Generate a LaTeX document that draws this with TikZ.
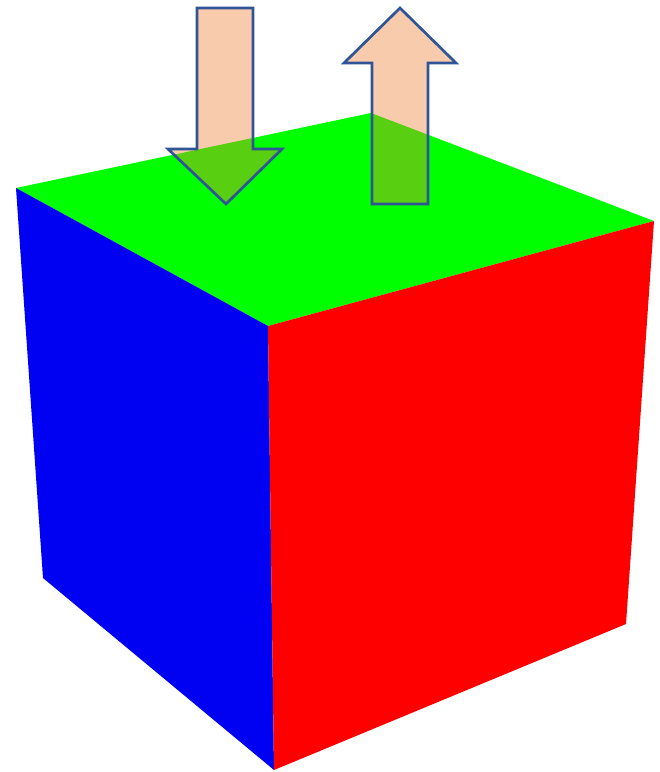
\documentclass[tikz,border=0pt]{standalone}
\usetikzlibrary{calc}
\definecolor{peach}{HTML}{F8CBAD}
\definecolor{overlap}{HTML}{59CF12}
\definecolor{outl}{HTML}{2F5597}
\definecolor{cgreen}{HTML}{00FF00}
\definecolor{cblue}{HTML}{0000F2}
\definecolor{cred}{HTML}{FF0000}
\tikzset{
  arrowline/.style={draw=outl, line width=2.7pt, line join=miter},
}
\begin{document}
\begin{tikzpicture}[x=1pt,y=-1pt]
\useasboundingbox (0,0) rectangle (660,772);
% cube vertices
\coordinate (TL) at (16,188);
\coordinate (TB) at (371,113);
\coordinate (TR) at (654,221);
\coordinate (TF) at (268,326);
\coordinate (BL) at (43,578);
\coordinate (BF) at (274,770);
\coordinate (BR) at (626,624);
% faces
\fill[cgreen] (TL) -- (TB) -- (TR) -- (TF) -- cycle;
\fill[cblue] (TL) -- (TF) -- (BF) -- (BL) -- cycle;
\fill[cred] (TF) -- (TR) -- (BR) -- (BF) -- cycle;
% arrows
\def\downarrowpath{(197,8) -- (253,8) -- (253,149) -- (282,149) -- (226,204) -- (168,149) -- (197,149) -- cycle}
\def\uparrowpath{(400,8) -- (456,63) -- (428,63) -- (428,204) -- (372,204) -- (372,63) -- (344,63) -- cycle}
\fill[peach] \downarrowpath;
\fill[peach] \uparrowpath;
\begin{scope}
  \clip (TL) -- (TB) -- (TR) -- (TF) -- cycle;
  \fill[overlap] \downarrowpath;
  \fill[overlap] \uparrowpath;
\end{scope}
\draw[arrowline] \downarrowpath;
\draw[arrowline] \uparrowpath;
\end{tikzpicture}
\end{document}
